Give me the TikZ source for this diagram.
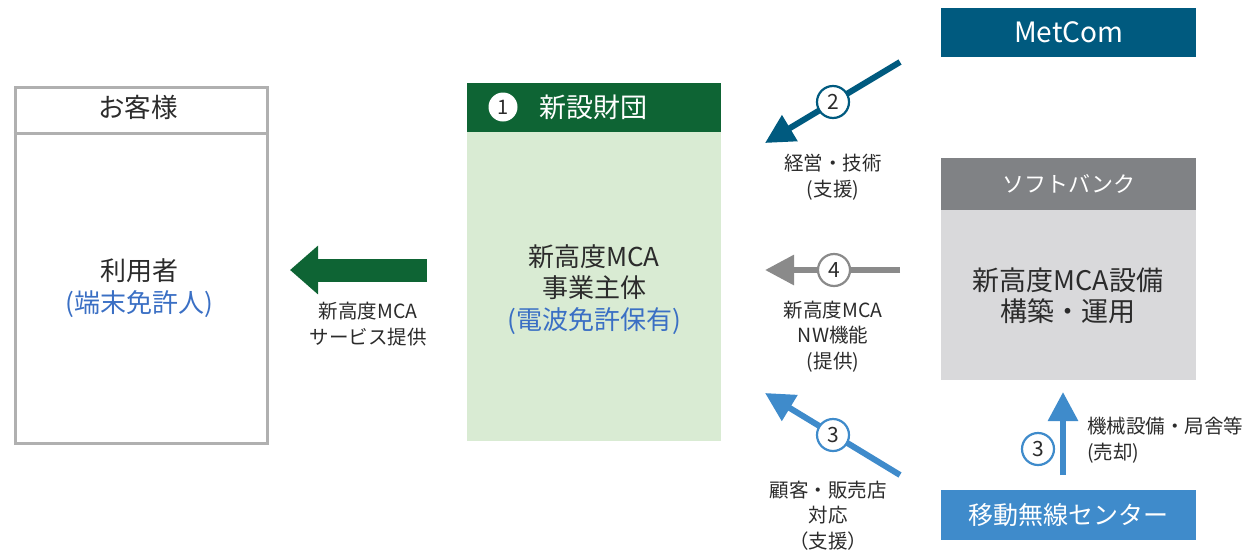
\documentclass[tikz,border=0pt]{standalone}
\usepackage{fontspec}
\setmainfont{Noto Sans CJK JP}
\usetikzlibrary{arrows.meta}
\definecolor{txtc}{HTML}{2B2B2B}
\definecolor{bluetxt}{HTML}{3A6FC4}
\definecolor{custgray}{HTML}{B0B0B0}
\definecolor{darkgreen}{HTML}{0E6434}
\definecolor{lightgreen}{HTML}{D9EBD3}
\definecolor{metcom}{HTML}{005A7F}
\definecolor{sbhead}{HTML}{808285}
\definecolor{sbbody}{HTML}{D9D9DB}
\definecolor{mblue}{HTML}{3F8BCB}
\definecolor{garrow}{HTML}{8A8A8A}
\begin{document}
\begin{tikzpicture}[x=1pt,y=-1pt,
  txt/.style={text=txtc, font=\fontsize{26}{31.5}\selectfont, align=center, inner sep=0pt},
  lbl/.style={text=txtc, font=\fontsize{19.5}{25.5}\selectfont, align=center, inner sep=0pt},
  numc/.style={circle, draw, fill=white, line width=2.2pt, minimum size=32pt, inner sep=0pt, font=\fontsize{21}{21}\selectfont, text=txtc},
  boxfill/.style={minimum width=#1, anchor=north west, inner sep=0pt, text=white},
  thinarrow/.style={line width=6pt, line cap=butt, -{Triangle[length=29pt,width=29pt]}},
  ]
\useasboundingbox (0,0) rectangle (1260,552);

% customer box
\node[draw=custgray, line width=3pt, minimum width=252pt, minimum height=356pt, anchor=north west, inner sep=0pt] (cust) at (13.5,85.5) {};
\draw[custgray, line width=3pt] ([yshift=-48pt]cust.north west) -- ([yshift=-48pt]cust.north east);
\node[txt, font=\fontsize{26.5}{31}\selectfont] (custhead) at (138,107) {お客様};
\node[txt] (custbody) at (139,288) {利用者\\\textcolor{bluetxt}{(端末免許人)}};

% green arrow
\coordinate (g1) at (427,270);
\coordinate (g2) at (290,270);
\draw[darkgreen, line width=23pt, -{Triangle[length=28pt,width=47pt]}] (g1) -- (g2);
\node[lbl] (glabel) at (368,324) {新高度MCA\\サービス提供};

% foundation box
\node[fill=darkgreen, boxfill=254pt, minimum height=49pt] (fhead) at (467,83) {};
\node[fill=lightgreen, boxfill=254pt, minimum height=309pt] (fbody) at (467,132) {};
\node[circle, fill=white, minimum size=29pt, inner sep=0pt, font=\fontsize{20}{20}\selectfont, text=txtc] (n1) at (503,107) {1};
\node[txt, text=white, font=\fontsize{27}{31}\selectfont] (fname) at (593,107) {新設財団};
\node[txt] (fbodytxt) at (594,289.5) {新高度MCA\\事業主体\\\textcolor{bluetxt}{(電波免許保有)}};

% MetCom
\node[fill=metcom, boxfill=255pt, minimum height=49pt] (metcom) at (941,8) {};
\node[txt, text=white, font=\fontsize{28}{30}\selectfont] (metcomtxt) at (metcom.center) {MetCom};

% SoftBank
\node[fill=sbhead, boxfill=255pt, minimum height=52pt] (sbhead) at (941,158) {};
\node[txt, text=white, font=\fontsize{22}{26}\selectfont] (sbheadtxt) at (sbhead.center) {ソフトバンク};
\node[fill=sbbody, boxfill=255pt, minimum height=170pt] (sbbody) at (941,210) {};
\node[txt, font=\fontsize{27}{31}\selectfont] (sbbodytxt) at (1068,296) {新高度MCA設備\\構築・運用};

% mobile radio center
\node[fill=mblue, boxfill=255pt, minimum height=50pt] (mrc) at (941,490) {};
\node[txt, text=white, font=\fontsize{25}{30}\selectfont] (mrctxt) at (mrc.center) {移動無線センター};

% arrow 2
\coordinate (a2s) at (900,62);
\coordinate (a2e) at (765,143);
\draw[metcom, thinarrow] (a2s) -- (a2e);
\node[numc, draw=metcom] (n2) at (833,102) {2};
\node[lbl] (l2) at (833,177) {経営・技術\\(支援)};

% arrow 4
\coordinate (a4s) at (900,270);
\coordinate (a4e) at (765,270);
\draw[garrow, thinarrow] (a4s) -- (a4e);
\node[numc, draw=garrow] (n4) at (834,270) {4};
\node[lbl] (l4) at (833,336.5) {新高度MCA\\NW機能\\(提供)};

% arrow 3 diagonal
\coordinate (a3s) at (900,475);
\coordinate (a3e) at (765,393);
\draw[mblue, thinarrow] (a3s) -- (a3e);
\node[numc, draw=mblue] (n3a) at (833,435) {3};
\node[lbl] (l3a) at (828,515.5) {顧客・販売店\\対応\\（支援）};

% arrow 3 vertical
\coordinate (v3s) at (1063,475);
\coordinate (v3e) at (1063,392);
\draw[mblue, thinarrow] (v3s) -- (v3e);
\node[numc, draw=mblue] (n3b) at (1038,449) {3};
\node[lbl, align=left, anchor=west] (l3b) at (1087,440) {機械設備・局舎等\\(売却)};
\end{tikzpicture}
\end{document}
